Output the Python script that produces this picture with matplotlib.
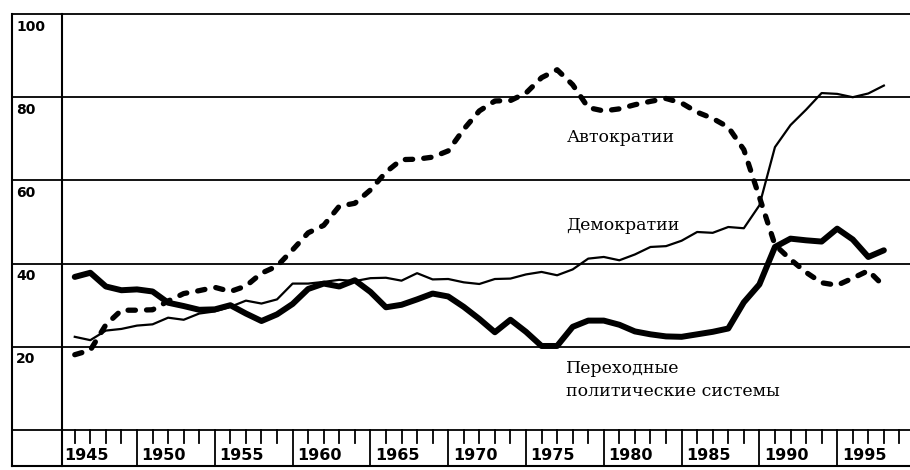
import matplotlib.pyplot as plt

# AÑOS Y NUMERO DE PAISES POR TIPO DE REGIMEN
years = list(range(1946, 1999))

democracias = [22.4, 21.6, 23.9, 24.3, 25.1, 25.4, 27.0, 26.5, 28.0, 28.5,
               29.6, 31.1, 30.4, 31.4, 35.2, 35.2, 35.6, 36.1, 35.8, 36.5,
               36.6, 35.9, 37.7, 36.2, 36.3, 35.5, 35.1, 36.3, 36.4, 37.4,
               38.0, 37.2, 38.6, 41.2, 41.6, 40.8, 42.2, 44.0, 44.2, 45.5,
               47.6, 47.4, 48.8, 48.5, 54.0, 68.0, 73.3, 77.0, 81.0, 80.8,
               80.0, 80.9, 82.8]

autocracias = [18.1, 19.2, 25.3, 28.8, 28.8, 28.9, 31.0, 32.8, 33.5, 34.3,
               33.3, 34.6, 37.7, 39.4, 43.3, 47.4, 49.2, 53.8, 54.5, 57.7,
               62.0, 65.0, 65.1, 65.6, 67.1, 72.3, 76.7, 79.1, 79.2, 81.0,
               84.7, 86.6, 83.0, 77.5, 76.7, 77.2, 78.2, 79.0, 79.7, 78.6,
               76.4, 74.9, 72.8, 67.4, 56.0, 44.5, 41.0, 37.9, 35.4, 34.8,
               36.5, 38.3, 34.6]

transicion = [36.8, 37.8, 34.5, 33.6, 33.8, 33.3, 30.6, 29.8, 28.9, 29.0,
              30.0, 28.0, 26.2, 27.8, 30.3, 33.9, 35.2, 34.5, 36.0, 33.2,
              29.5, 30.1, 31.4, 32.8, 32.1, 29.6, 26.7, 23.5, 26.5, 23.6,
              20.2, 20.2, 24.8, 26.3, 26.3, 25.3, 23.7, 23.0, 22.5, 22.4,
              23.0, 23.6, 24.4, 30.7, 35.0, 44.0, 46.0, 45.6, 45.3, 48.4,
              45.8, 41.6, 43.2]

y_ticks = [100, 80, 60, 40, 20]
grid_levels = [100, 80, 60, 40, 20, 0]
label_years = [1945, 1950, 1955, 1960, 1965, 1970, 1975, 1980, 1985, 1990, 1995]

fig = plt.figure(figsize=(9.1, 4.7), dpi=100)
ax = fig.add_axes([0, 0, 1, 1])
ax.set_xlim(1941.195, 1999.68)
ax.set_ylim(-9.615, 103.37)
ax.axis("off")

left_edge = 1941.97
bottom_edge = -8.65

# MARCO Y LINEAS HORIZONTALES
for g in grid_levels:
    ax.plot([left_edge, 1999.7], [g, g], color="black", lw=1.3)
ax.plot([left_edge, 1999.7], [bottom_edge, bottom_edge], color="black", lw=1.5)
ax.plot([left_edge, left_edge], [bottom_edge, 100], color="black", lw=1.5)
ax.plot([1945.2, 1945.2], [bottom_edge, 100], color="black", lw=1.5)

# ETIQUETAS DEL EJE Y
for t in y_ticks:
    ax.text(1942.22, t - 4, str(t), fontsize=10, fontweight="bold",
            family="DejaVu Sans", va="baseline", ha="left")

# DIVISIONES Y MARCAS DEL EJE X
for yr in range(1946, 2000):
    if yr % 5 == 0:
        ax.plot([yr, yr], [bottom_edge, 0], color="black", lw=1.3)
    else:
        ax.plot([yr, yr], [-3.1, 0], color="black", lw=1.3)
for yr in label_years:
    ax.text(yr + 0.3, -7.2, str(yr), fontsize=11.5, fontweight="bold",
            family="DejaVu Sans", va="baseline", ha="left")

# SERIES
ax.plot(years, democracias, color="black", lw=1.6, solid_joinstyle="round")
ax.plot(years, transicion, color="black", lw=4.3, solid_joinstyle="round",
        solid_capstyle="round")
line_a, = ax.plot(years, autocracias, color="black", lw=3.8,
                  dash_capstyle="round", dash_joinstyle="round")
line_a.set_dashes((1.4, 2.1))

# NOMBRES DE LAS SERIES
serif = "DejaVu Serif"
ax.text(1977.6, 69.2, "Автократии", fontsize=12.5, family=serif, va="baseline")
ax.text(1977.6, 48.1, "Демократии", fontsize=12.5, family=serif, va="baseline")
ax.text(1977.6, 13.7, "Переходные", fontsize=12.5, family=serif, va="baseline")
ax.text(1977.6, 8.2, "политические системы", fontsize=12.5, family=serif,
        va="baseline")

plt.savefig("out.png", dpi=100)
